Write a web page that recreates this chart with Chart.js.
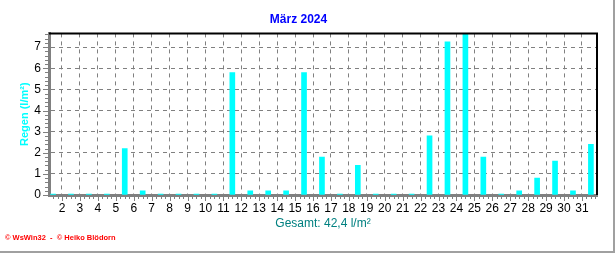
<!DOCTYPE html>
<html>
<head>
<meta charset="utf-8">
<script src="https://cdn.jsdelivr.net/npm/chart.js@4"></script>
<style>
  html, body { margin: 0; padding: 0; background: #fff; }
</style>
</head>
<body>
<canvas id="rainChart" width="616" height="253"></canvas>
<script>
// daily rain, March 2024 (l/m²)
const days = [1, 2, 3, 4, 5, 6, 7, 8, 9, 10, 11, 12, 13, 14, 15, 16, 17, 18, 19, 20, 21, 22, 23, 24, 25, 26, 27, 28, 29, 30, 31];
const rain = [0, 0, 0, 0, 2.2, 0.2, 0, 0, 0, 0, 5.8, 0.2, 0.2, 0.2, 5.8, 1.8, 0, 1.4, 0, 0, 0, 2.8, 7.25, 7.65, 1.8, 0, 0.2, 0.8, 1.6, 0.2, 2.4];
const xTicks = [2, 3, 4, 5, 6, 7, 8, 9, 10, 11, 12, 13, 14, 15, 16, 17, 18, 19, 20, 21, 22, 23, 24, 25, 26, 27, 28, 29, 30, 31];
const yTicks = [0, 1, 2, 3, 4, 5, 6, 7];
const xMin = 1.275, xMax = 31.84, yMax = 7.65;

const decorations = {
  id: 'decorations',
  beforeDatasetsDraw(chart) {
    const { ctx, chartArea: a, scales: { x, y } } = chart;
    ctx.save();
    ctx.strokeStyle = '#808080';
    ctx.lineWidth = 1;
    ctx.beginPath();
    // y minor/major ticks
    for (let i = 0; i * 0.2 <= yMax; i++) {
      const py = Math.round(y.getPixelForValue(i * 0.2)) + 0.5;
      const len = i % 5 === 0 ? 5 : 3;
      ctx.moveTo(a.left - 1 - len, py);
      ctx.lineTo(a.left - 1, py);
    }
    // x minor/major ticks (every 6 h)
    for (let i = Math.ceil(xMin * 4); i / 4 <= xMax; i++) {
      const px = Math.round(x.getPixelForValue(i / 4)) + 0.5;
      const len = i % 4 === 0 ? 5 : 3;
      ctx.moveTo(px, a.bottom + 1);
      ctx.lineTo(px, a.bottom + 1 + len);
    }
    ctx.stroke();
    ctx.restore();
  },
  afterDraw(chart) {
    const { ctx, chartArea: a, width, height } = chart;
    ctx.save();
    // top and right plot border
    ctx.strokeStyle = '#000';
    ctx.lineWidth = 2;
    ctx.beginPath();
    ctx.moveTo(a.left, a.top);
    ctx.lineTo(a.right, a.top);
    ctx.lineTo(a.right, a.bottom);
    ctx.stroke();
    // window frame right/bottom
    ctx.strokeStyle = '#a0a0a0';
    ctx.beginPath();
    ctx.moveTo(width - 2, 0);
    ctx.lineTo(width - 2, height - 1);
    ctx.lineTo(0, height - 1);
    ctx.stroke();
    // footer
    ctx.fillStyle = '#ff0000';
    ctx.font = 'bold 7.5px Arial';
    ctx.textBaseline = 'middle';
    ctx.fillText('© WsWin32  -  © Heiko Blödorn', 5, 238);
    ctx.restore();
  }
};

new Chart(document.getElementById('rainChart'), {
  type: 'bar',
  data: {
    datasets: [{
      data: days.map((d, i) => ({ x: d + 0.5, y: rain[i] })),
      backgroundColor: '#00ffff',
      borderWidth: 0,
      barThickness: 5,
      minBarLength: 1
    }]
  },
  options: {
    responsive: false,
    animation: false,
    layout: { padding: { left: 0, right: 19, top: 0, bottom: 18 } },
    plugins: {
      legend: { display: false },
      tooltip: { enabled: false },
      title: {
        display: true,
        text: 'März 2024',
        color: '#0000ff',
        font: { family: 'Arial', size: 12, weight: 'bold' },
        padding: { top: 12, bottom: 7 }
      }
    },
    scales: {
      x: {
        type: 'linear',
        offset: false,
        min: xMin,
        max: xMax,
        afterBuildTicks: s => { s.ticks = xTicks.map(v => ({ value: v })); },
        afterFit: s => { s.height = 40; },
        grid: { color: '#808080', lineWidth: 1, drawTicks: false, offset: false },
        border: { color: '#808080', width: 3, dash: [4, 4] },
        ticks: {
          color: '#000',
          font: { family: 'Arial', size: 12 },
          padding: 6,
          maxRotation: 0,
          autoSkip: false
        },
        title: {
          display: true,
          text: 'Gesamt: 42,4 l/m²',
          color: '#008080',
          font: { family: 'Arial', size: 12 },
          padding: { top: 0, bottom: 4 }
        }
      },
      y: {
        min: 0,
        max: yMax,
        afterBuildTicks: s => { s.ticks = yTicks.map(v => ({ value: v })); },
        afterFit: s => { s.width = 49; },
        grid: { color: '#808080', lineWidth: 1, drawTicks: false },
        border: { color: '#808080', width: 3, dash: [4, 4] },
        ticks: {
          color: '#000',
          font: { family: 'Arial', size: 12 },
          padding: 8
        },
        title: {
          display: true,
          text: 'Regen (l/m²)',
          color: '#00ffff',
          font: { family: 'Arial', size: 11, weight: 'bold' },
          padding: { top: 18, bottom: 0 }
        }
      }
    }
  },
  plugins: [decorations]
});
</script>
</body>
</html>
